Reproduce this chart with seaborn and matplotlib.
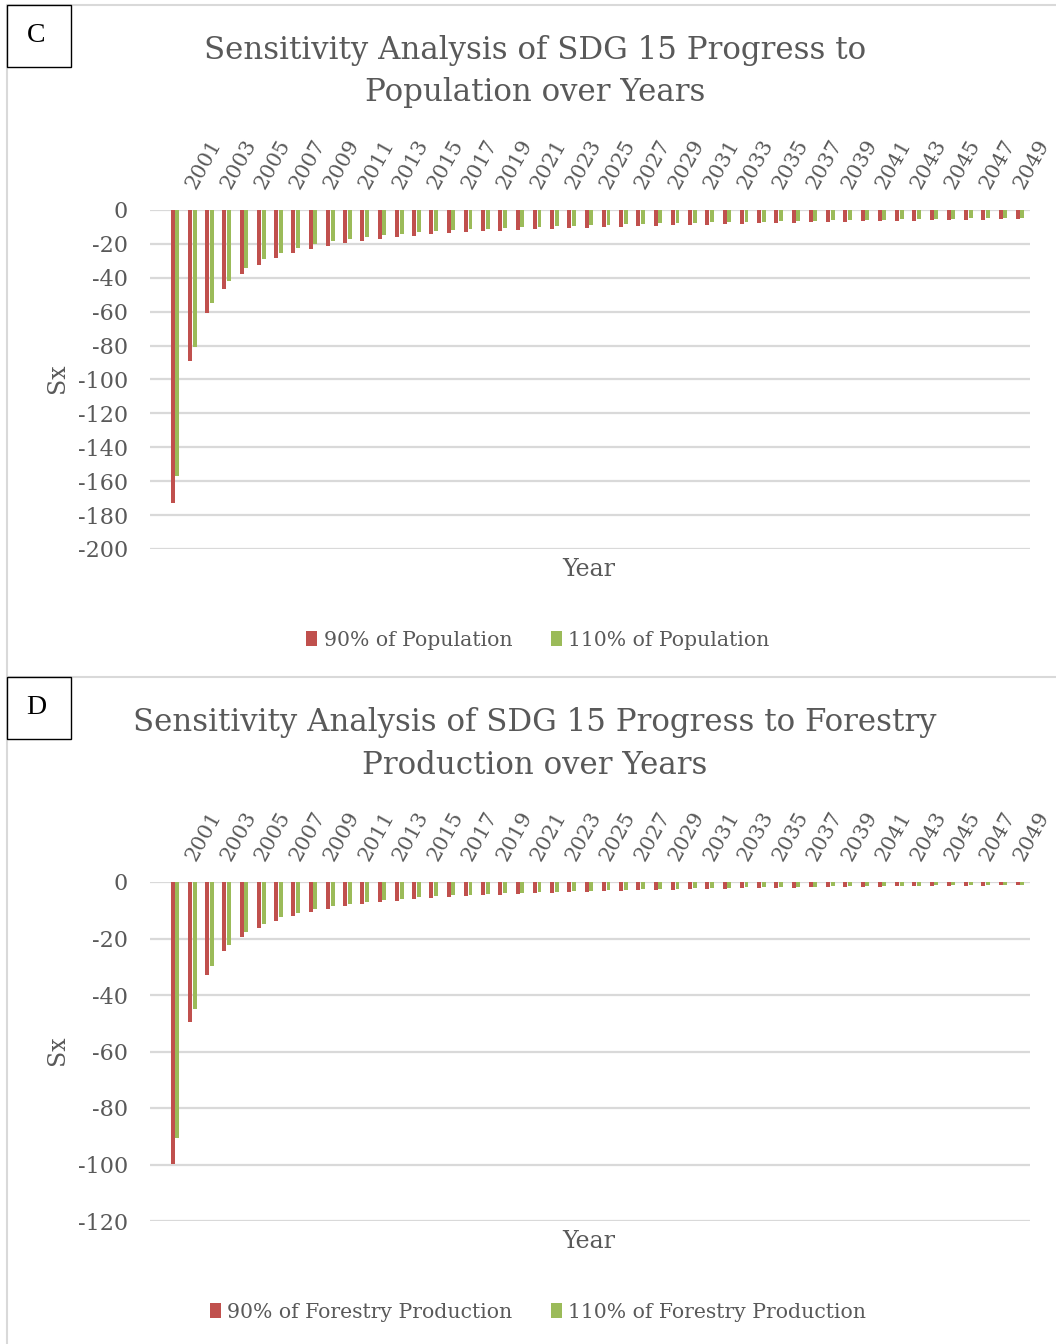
import numpy as np
import pandas as pd
import matplotlib
matplotlib.use('Agg')
import matplotlib.pyplot as plt
import seaborn as sns
from matplotlib.patches import Rectangle, Patch
from matplotlib.lines import Line2D
from matplotlib.transforms import ScaledTranslation

years = [str(y) for y in range(2001, 2051)]
pop_90 = [-173, -88.9, -60.6, -46.6, -38, -32.3, -28.5, -25.4, -23, -21,
          -19.5, -18.1, -16.9, -16.1, -15.2, -14.4, -13.8, -13.2, -12.6, -12.2,
          -11.8, -11.4, -11.0, -10.8, -10.4, -10.0, -9.8, -9.4, -9.2, -9.0,
          -8.8, -8.7, -8.3, -8.1, -7.9, -7.7, -7.5, -7.3, -7.1, -6.9,
          -6.7, -6.5, -6.3, -6.3, -6.1, -5.9, -5.9, -5.7, -5.5, -5.3]
pop_110 = [-157, -80.6, -54.7, -41.7, -34, -28.9, -25.2, -22.2, -20, -18.5,
           -17.1, -15.7, -14.7, -14, -13.2, -12.4, -11.8, -11.4, -11.0, -10.6,
           -10.0, -9.8, -9.4, -9.2, -8.8, -8.7, -8.3, -8.1, -7.9, -7.7,
           -7.5, -7.3, -7.1, -7.1, -6.9, -6.7, -6.5, -6.3, -6.1, -6.1,
           -5.9, -5.7, -5.5, -5.5, -5.3, -5.1, -4.9, -4.9, -4.7, -4.7]
for_90 = [-99.9, -49.7, -33.0, -24.5, -19.5, -16.2, -13.8, -12.0, -10.5, -9.4,
          -8.5, -7.7, -7.2, -6.6, -6.0, -5.7, -5.3, -5.0, -4.7, -4.5,
          -4.2, -4.0, -3.8, -3.5, -3.4, -3.2, -3.1, -2.9, -2.8, -2.7,
          -2.6, -2.5, -2.4, -2.2, -2.1, -2.0, -2.0, -1.9, -1.9, -1.8,
          -1.7, -1.7, -1.5, -1.5, -1.4, -1.4, -1.3, -1.3, -1.2, -1.2]
for_110 = [-90.7, -45.1, -29.9, -22.2, -17.6, -14.7, -12.5, -10.9, -9.4, -8.5,
           -7.7, -7.0, -6.4, -5.9, -5.4, -5.0, -4.7, -4.5, -4.2, -4.0,
           -3.8, -3.5, -3.4, -3.2, -3.1, -2.8, -2.7, -2.6, -2.5, -2.4,
           -2.2, -2.1, -2.0, -1.9, -1.8, -1.8, -1.7, -1.7, -1.5, -1.5,
           -1.4, -1.4, -1.3, -1.3, -1.2, -1.2, -1.1, -1.1, -0.9, -0.9]

pop_series = ["90% of Population", "110% of Population"]
for_series = ["90% of Forestry Production", "110% of Forestry Production"]
title_c = ["Sensitivity Analysis of SDG 15 Progress to", "Population over Years"]
title_d = ["Sensitivity Analysis of SDG 15 Progress to Forestry", "Production over Years"]

RED = "#C0504D"
GREEN = "#9BBB59"
TXT = "#595959"
GRID = "#D9D9D9"

sns.set_theme(style="white")
plt.rcParams['font.family'] = ['DejaVu Serif']
plt.rcParams['axes.unicode_minus'] = False

W, H = 1056, 1344
fig = plt.figure(figsize=(W / 100, H / 100), dpi=100)


def fx(px):
    return px / W


def fy(py):
    return 1 - py / H


def panel(top_px, v90, v110, names, ymin, titles, letter):
    ax = fig.add_axes([fx(150), fy(top_px + 339), fx(880), 339 / H])
    df = pd.DataFrame({
        "Year": years * 2,
        "Sx": list(v90) + list(v110),
        "Series": [names[0]] * len(years) + [names[1]] * len(years),
    })
    sns.barplot(data=df, x="Year", y="Sx", hue="Series", hue_order=names,
                palette={names[0]: RED, names[1]: GREEN}, width=0.53,
                ax=ax, legend=False, saturation=1, errorbar=None)
    for cont in ax.containers:
        for b in cont:
            c = b.get_x() + b.get_width() / 2
            b.set_width(0.23)
            b.set_x(c - 0.115)
            b.set_linewidth(0)
    ax.set_xlim(-1.45, 49.57)
    ax.set_ylim(ymin, 0)
    ax.set_yticks(np.arange(ymin, 1, 20))
    ax.yaxis.grid(True, color=GRID, lw=1.6)
    ax.set_axisbelow(True)
    for s in ax.spines.values():
        s.set_visible(False)
    ax.set_xlabel("")
    ax.set_ylabel("")
    ax.xaxis.tick_top()
    ticks = list(range(0, len(years), 2))
    ax.set_xticks(ticks)
    ax.set_xticklabels([years[i] for i in ticks])
    ax.tick_params(axis='x', length=0, pad=16, labelsize=15, labelcolor=TXT)
    ax.tick_params(axis='y', length=0, pad=16, labelsize=16, labelcolor=TXT)
    off = ScaledTranslation(16 / 100, 0, fig.dpi_scale_trans)
    for lab in ax.get_xticklabels():
        lab.set_rotation(61)
        lab.set_ha('left')
        lab.set_va('center')
        lab.set_rotation_mode('anchor')
        lab.set_transform(lab.get_transform() + off)
    # titles
    t0 = top_px - 210
    fig.text(fx(535), fy(t0 + 50), titles[0], ha='center', va='center',
             fontsize=22.2, color=TXT)
    fig.text(fx(535), fy(t0 + 93), titles[1], ha='center', va='center',
             fontsize=22.2, color=TXT)
    fig.text(fx(589), fy(t0 + 570), "Year", ha='center', va='center',
             fontsize=17, color=TXT)
    fig.text(fx(57), fy(t0 + 378), "Sx", ha='center', va='center',
             fontsize=17, color=TXT, rotation=90)
    handles = [Patch(facecolor=RED, edgecolor='none'), Patch(facecolor=GREEN, edgecolor='none')]
    fig.legend(handles, names, loc='center', bbox_to_anchor=(fx(538), fy(t0 + 640)),
               ncol=2, frameon=False, fontsize=14.7, labelcolor=TXT,
               handlelength=0.55, handleheight=0.75, handletextpad=0.3,
               columnspacing=1.9)
    # letter box
    fig.patches.append(Rectangle((fx(7), fy(t0 + 67)), fx(64), 62 / H,
                                 transform=fig.transFigure, facecolor='white',
                                 edgecolor='black', lw=1.0, zorder=5))
    fig.text(fx(36), fy(t0 + 36), letter, ha='center', va='center',
             fontsize=20, color='black', zorder=6, family='Liberation Serif')
    return ax


# panel borders
fig.add_artist(Line2D([fx(7), fx(7)], [0, fy(5)], color=GRID, lw=1.5))
fig.add_artist(Line2D([fx(7), 1], [fy(5), fy(5)], color=GRID, lw=1.5))
fig.add_artist(Line2D([fx(7), 1], [fy(677), fy(677)], color=GRID, lw=1.5))

panel(210, pop_90, pop_110, pop_series, -200, title_c, "C")
panel(882, for_90, for_110, for_series, -120, title_d, "D")

fig.savefig("out.png", dpi=100)
